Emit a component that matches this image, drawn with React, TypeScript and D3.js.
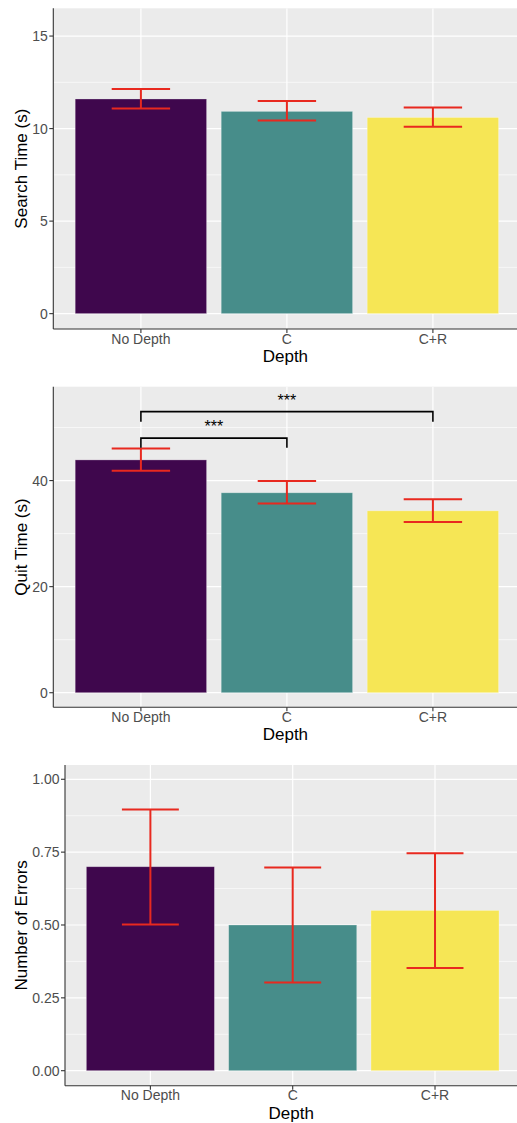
import React from "react";
import * as d3 from "d3";

const categories = ["No Depth", "C", "C+R"];
const barColors = ["#3f074d", "#478d8a", "#f6e655"];

const searchMean = [11.6, 10.93, 10.6];
const searchLow = [11.09, 10.44, 10.1];
const searchHigh = [12.14, 11.49, 11.14];
const searchTicks = [0, 5, 10, 15];
const searchMinor = [2.5, 7.5, 12.5];

const quitMean = [43.9, 37.7, 34.3];
const quitLow = [41.83, 35.66, 32.2];
const quitHigh = [46.04, 39.94, 36.5];
const quitTicks = [0, 20, 40];
const quitMinor = [10, 30, 50];
const quitSig = [
  { from: 0, to: 2, bar: 53.0, tip: 51.1, label: "***" },
  { from: 0, to: 1, bar: 48.0, tip: 46.2, label: "***" },
];

const errMean = [0.7, 0.5, 0.55];
const errLow = [0.502, 0.303, 0.352];
const errHigh = [0.896, 0.697, 0.746];
const errTicks = [0, 0.25, 0.5, 0.75, 1.0];
const errTickLabels = ["0.00", "0.25", "0.50", "0.75", "1.00"];
const errMinor = [0.125, 0.375, 0.625, 0.875];

type Sig = { from: number; to: number; bar: number; tip: number; label: string };

type PanelProps = {
  left: number;
  top: number;
  bottom: number;
  right: number;
  domain: [number, number];
  ticks: number[];
  tickLabels?: string[];
  minor: number[];
  mean: number[];
  low: number[];
  high: number[];
  yTitle: string;
  sig?: Sig[];
};

const FONT = "'Liberation Sans', Arial, Helvetica, sans-serif";

function Panel(p: PanelProps) {
  const x = d3
    .scaleBand<string>()
    .domain(categories)
    .range([p.left, p.right])
    .paddingInner(0.1)
    .paddingOuter(0.15);
  const y = d3.scaleLinear().domain(p.domain).range([p.bottom, p.top]);
  const bw = x.bandwidth();
  const step = x.step();
  const cx = (i: number) => (x(categories[i]) as number) + bw / 2;
  const whisk = step * 0.2;
  const clipId = `clip-${p.top}`;
  return (
    <g>
      <defs>
        <clipPath id={clipId}>
          <rect x={p.left} y={p.top} width={p.right - p.left} height={p.bottom - p.top} />
        </clipPath>
      </defs>
      <rect x={p.left} y={p.top} width={p.right - p.left} height={p.bottom - p.top} fill="#ebebeb" />
      <g clipPath={`url(#${clipId})`}>
        {p.minor.map((t) => (
          <line key={"mi" + t} x1={p.left} x2={p.right} y1={y(t)} y2={y(t)} stroke="#fff" strokeWidth={0.6} />
        ))}
        {p.ticks.map((t) => (
          <line key={"ma" + t} x1={p.left} x2={p.right} y1={y(t)} y2={y(t)} stroke="#fff" strokeWidth={1.2} />
        ))}
        {categories.map((c, i) => (
          <line key={"vx" + c} x1={cx(i)} x2={cx(i)} y1={p.top} y2={p.bottom} stroke="#fff" strokeWidth={1.2} />
        ))}
        {categories.map((c, i) => (
          <rect
            key={"bar" + c}
            x={x(c)}
            y={y(p.mean[i])}
            width={bw}
            height={y(0) - y(p.mean[i])}
            fill={barColors[i]}
            stroke="rgba(255,255,255,0.35)"
            strokeWidth={0.8}
          />
        ))}
        {categories.map((c, i) => (
          <g key={"eb" + c} stroke="#e8291f" strokeWidth={2} fill="none">
            <line x1={cx(i)} x2={cx(i)} y1={y(p.low[i])} y2={y(p.high[i])} />
            <line x1={cx(i) - whisk} x2={cx(i) + whisk} y1={y(p.low[i])} y2={y(p.low[i])} />
            <line x1={cx(i) - whisk} x2={cx(i) + whisk} y1={y(p.high[i])} y2={y(p.high[i])} />
          </g>
        ))}
        {(p.sig || []).map((s, k) => (
          <g key={"sig" + k}>
            <path
              d={`M${cx(s.from)},${y(s.tip)}V${y(s.bar)}H${cx(s.to)}V${y(s.tip)}`}
              fill="none"
              stroke="#000"
              strokeWidth={1.6}
            />
            <text
              x={(cx(s.from) + cx(s.to)) / 2}
              y={y(s.bar) - 5.7}
              textAnchor="middle"
              fontFamily={FONT}
              fontSize={16}
              fill="#000"
            >
              {s.label}
            </text>
          </g>
        ))}
      </g>
      {/* axes */}
      <line x1={p.left} x2={p.left} y1={p.top} y2={p.bottom} stroke="#333" strokeWidth={1.1} />
      <line x1={p.left} x2={p.right} y1={p.bottom} y2={p.bottom} stroke="#333" strokeWidth={1.1} />
      {p.ticks.map((t, i) => (
        <g key={"yt" + t}>
          <line x1={p.left - 4} x2={p.left} y1={y(t)} y2={y(t)} stroke="#333" strokeWidth={1.1} />
          <text
            x={p.left - 5.5}
            y={y(t)}
            dy="0.36em"
            textAnchor="end"
            fontFamily={FONT}
            fontSize={14}
            fill="#4d4d4d"
          >
            {p.tickLabels ? p.tickLabels[i] : String(t)}
          </text>
        </g>
      ))}
      {categories.map((c, i) => (
        <g key={"xt" + c}>
          <line x1={cx(i)} x2={cx(i)} y1={p.bottom} y2={p.bottom + 4} stroke="#333" strokeWidth={1.1} />
          <text
            x={cx(i)}
            y={p.bottom + 14.5}
            textAnchor="middle"
            fontFamily={FONT}
            fontSize={14}
            fill="#4d4d4d"
          >
            {c}
          </text>
        </g>
      ))}
      <text
        x={(p.left + p.right) / 2 - 1.5}
        y={p.bottom + 33}
        textAnchor="middle"
        fontFamily={FONT}
        fontSize={17}
        fill="#000"
      >
        Depth
      </text>
      <text
        transform={`translate(20.5,${(p.top + p.bottom) / 2}) rotate(-90)`}
        dy="0.36em"
        textAnchor="middle"
        fontFamily={FONT}
        fontSize={17}
        fill="#000"
      >
        {p.yTitle}
      </text>
    </g>
  );
}

export default function App() {
  return (
    <svg
      width={517}
      height={1123}
      style={{ position: "absolute", left: 0, top: 0, background: "#fff" }}
    >
      <rect x={0} y={0} width={517} height={1123} fill="#fff" />
      <Panel
        left={53.3}
        right={520.5}
        top={8.3}
        bottom={329}
        domain={[-0.83, 16.5]}
        ticks={searchTicks}
        minor={searchMinor}
        mean={searchMean}
        low={searchLow}
        high={searchHigh}
        yTitle="Search Time (s)"
      />
      <Panel
        left={53.3}
        right={520.5}
        top={386.7}
        bottom={707.3}
        domain={[-2.75, 57.7]}
        ticks={quitTicks}
        minor={quitMinor}
        mean={quitMean}
        low={quitLow}
        high={quitHigh}
        yTitle="Quit Time (s)"
        sig={quitSig}
      />
      <Panel
        left={65}
        right={520.4}
        top={765}
        bottom={1085.7}
        domain={[-0.0515, 1.049]}
        ticks={errTicks}
        tickLabels={errTickLabels}
        minor={errMinor}
        mean={errMean}
        low={errLow}
        high={errHigh}
        yTitle="Number of Errors"
      />
    </svg>
  );
}
